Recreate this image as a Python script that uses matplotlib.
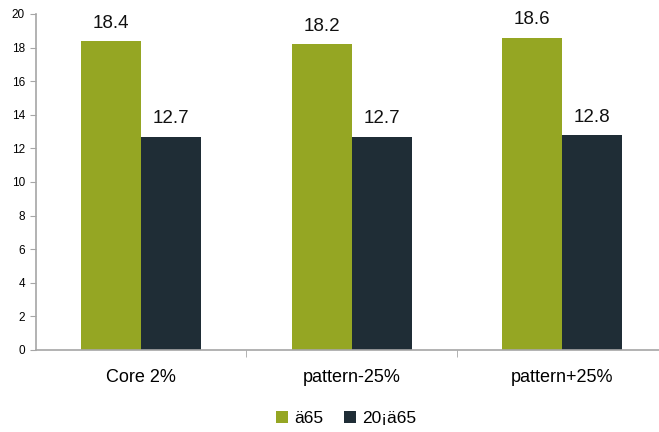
import matplotlib
matplotlib.use("Agg")
import matplotlib.pyplot as plt
import numpy as np

categories = ["Core 2%", "pattern-25%", "pattern+25%"]
series_names = ["ä65", "20¡ä65"]
values_a = [18.4, 18.2, 18.6]
values_b = [12.7, 12.7, 12.8]
colors = ["#95a623", "#1f2d36"]

plt.rcParams["font.family"] = ["Liberation Sans", "DejaVu Sans"]

fig = plt.figure(figsize=(6.59, 4.32), dpi=100)
ax = fig.add_axes([0.0546, 0.19, 0.9454, 0.7776])

x = np.arange(len(categories))
w = 0.285
bars_a = ax.bar(x - w / 2, values_a, w, color=colors[0], label=series_names[0])
bars_b = ax.bar(x + w / 2, values_b, w, color=colors[1], label=series_names[1])

for bars, vals in ((bars_a, values_a), (bars_b, values_b)):
    for b, v in zip(bars, vals):
        ax.text(b.get_x() + b.get_width() / 2, v + 0.55, f"{v:.1f}",
                ha="center", va="bottom", fontsize=13.5, color="#111111")

ax.set_ylim(0, 20)
ax.set_yticks(np.arange(0, 21, 2))
ax.set_xlim(-0.5, 2.46)
ax.set_xticks(x)
ax.set_xticklabels(categories, fontsize=13)
ax.set_xticks([0.5, 1.5], minor=True)
ax.tick_params(axis="x", which="major", length=0, pad=14)
ax.tick_params(axis="x", which="minor", length=5, color="#a6a6a6", direction="out")
ax.tick_params(axis="y", labelsize=8.5, length=4, color="#a6a6a6", direction="out", pad=4)

for s in ("top", "right"):
    ax.spines[s].set_visible(False)
for s in ("left", "bottom"):
    ax.spines[s].set_color("#a6a6a6")
    ax.spines[s].set_linewidth(1.2)

fig.legend(handles=[bars_a, bars_b], labels=series_names, loc="center",
           bbox_to_anchor=(0.525, 0.032), ncol=2, frameon=False, fontsize=12.5,
           handlelength=0.7, handleheight=0.7, handletextpad=0.35, columnspacing=1.2)

fig.savefig("out.png", dpi=100)
